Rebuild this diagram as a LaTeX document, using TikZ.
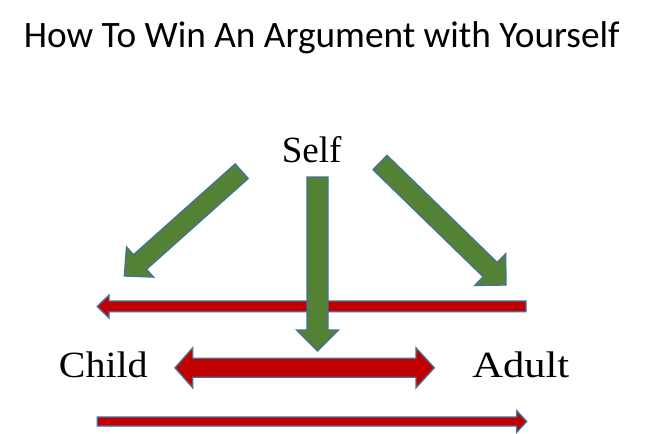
\documentclass[tikz,border=0pt]{standalone}
\usepackage{fontspec}
\setmainfont{Liberation Serif}
\newfontfamily\titlefont{Carlito}
\definecolor{gfill}{HTML}{548235}
\definecolor{rfill}{HTML}{C00000}
\definecolor{edge}{HTML}{41719C}
\begin{document}
\begin{tikzpicture}[x=1pt,y=-1pt,
  garrow/.style={fill=gfill,draw=edge,line width=1.3pt,line join=miter},
  rarrow/.style={fill=rfill,draw=edge,line width=1.3pt,line join=miter},
  lbl/.style={anchor=base,inner sep=0pt,font=\fontsize{37}{40}\selectfont}]
\useasboundingbox (0,0) rectangle (646,434);
\node[anchor=base,inner sep=0pt,font=\titlefont\fontsize{37.3}{40}\selectfont] (title) at (321.7,47.3) {How To Win An Argument with Yourself};
\node[lbl] (self) at (311.7,162.3) {Self};
\node[lbl] (child) at (103.3,377.3) {\scalebox{1.08}[1]{Child}};
\node[lbl] (adult) at (520.8,377.3) {\scalebox{1.15}[1]{Adult}};
% left diagonal green arrow
\draw[garrow] (235.2,163.9) -- (248.2,178.5) -- (146.5,269.3) -- (153.5,277.1) -- (124.3,276) -- (126.5,246.9) -- (133.5,254.7) -- cycle;
% right diagonal green arrow
\draw[garrow] (373,169.7) -- (387,155.3) -- (497.2,262.4) -- (505.7,253.7) -- (506,285) -- (474.7,285.5) -- (483.2,276.8) -- cycle;
% top red arrow (left)
\draw[rarrow] (526,301) -- (109,301) -- (109,295) -- (97.3,306.5) -- (109,318) -- (109,311.7) -- (526,311.7) -- cycle;
% vertical green arrow
\draw[garrow] (307,177) -- (328,177) -- (328,330) -- (338.5,330) -- (317.5,351) -- (296.5,330) -- (307,330) -- cycle;
% middle double red arrow
\draw[rarrow] (175,367.8) -- (192.7,347.8) -- (192.7,358.3) -- (416,358.3) -- (416,347.8) -- (434.3,367.8) -- (416,387.8) -- (416,377.3) -- (192.7,377.3) -- (192.7,387.8) -- cycle;
% bottom red arrow (right)
\draw[rarrow] (97.3,417) -- (516.7,417) -- (516.7,410.7) -- (526.7,421.5) -- (516.7,432.3) -- (516.7,426) -- (97.3,426) -- cycle;
\end{tikzpicture}
\end{document}
